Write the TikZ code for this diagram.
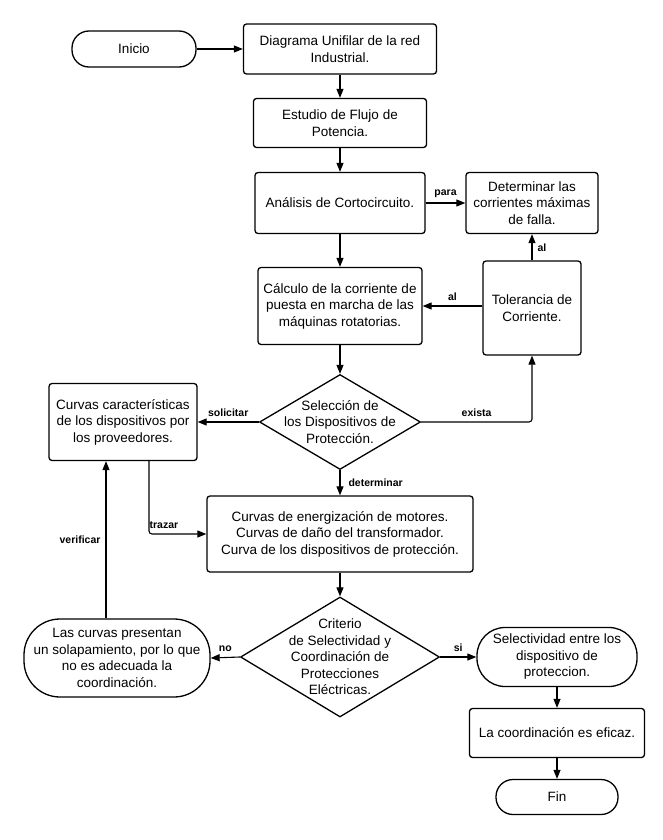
\documentclass[tikz,border=0pt]{standalone}
\usepackage{fontspec}
\setmainfont{Liberation Sans}
\usetikzlibrary{arrows.meta,shapes.geometric}
\begin{document}
\begin{tikzpicture}[x=1pt,y=-1pt,
  txt/.style={font=\fontsize{13.5}{16.5}\selectfont, align=center},
  box/.style={txt, draw, line width=1.3pt, rounded corners=3pt, inner sep=0pt},
  term/.style={box, rounded corners=17pt},
  dia/.style={draw, shape=diamond, line width=1.3pt, inner sep=0pt},
  lbl/.style={font=\bfseries\fontsize{10.5}{12}\selectfont, inner sep=1pt},
  arr/.style={draw, line width=1.1pt, -{Triangle[length=9pt,width=7pt]}}
]
\useasboundingbox (0,0) rectangle (662,840);
\fill[white] (0,0) rectangle (662,840);

\node[term, minimum width=124pt, minimum height=36pt] (inicio) at (134,49) {Inicio};
\node[box, minimum width=193pt, minimum height=50pt] (diag) at (340,49) {Diagrama Unifilar de la red\\Industrial.};
\node[box, minimum width=173pt, minimum height=49pt] (estudio) at (340,123) {Estudio de Flujo de\\Potencia.};
\node[box, minimum width=170pt, minimum height=61pt] (analisis) at (340,203) {Análisis de Cortocircuito.};
\node[box, minimum width=132pt, minimum height=61pt] (determ) at (532,203) {Determinar las\\corrientes máximas\\de falla.};
\node[box, minimum width=164pt, minimum height=77pt] (calculo) at (340,306) {Cálculo de la corriente de\\puesta en marcha de las\\máquinas rotatorias.};
\node[box, minimum width=98pt, minimum height=94pt] (toler) at (532,308) {Tolerancia de\\Corriente.};
\node[dia, minimum width=161pt, minimum height=95pt,
  label={[txt]center:{Selección de\\los Dispositivos de\\Protección.}}] (sel) at (340,422) {};
\node[box, minimum width=148pt, minimum height=77pt] (curcar) at (123,422) {Curvas características\\de los dispositivos por\\los proveedores.};
\node[box, minimum width=266pt, minimum height=76pt] (curen) at (340,534) {Curvas de energización de motores.\\Curvas de daño del transformador.\\Curva de los dispositivos de protección.};
\node[dia, minimum width=199pt, minimum height=120pt,
  label={[txt]center:{Criterio\\de Selectividad y\\Coordinación de\\Protecciones\\Eléctricas.}}] (crit) at (340,657) {};
\node[box, rounded corners=36pt, minimum width=186pt, minimum height=78pt] (lascur) at (117,658) {Las curvas presentan\\un solapamiento, por lo que\\no es adecuada la\\coordinación.};
\node[box, rounded corners=28pt, minimum width=160pt, minimum height=59pt] (selec) at (557,657) {Selectividad entre los\\dispositivo de\\proteccion.};
\node[box, minimum width=175pt, minimum height=49pt] (coord) at (557,733) {La coordinación es eficaz.};
\node[term, minimum width=122pt, minimum height=35pt] (fin) at (557,797) {Fin};

\draw[arr] (inicio.east) -- (diag.west);
\draw[arr] (diag.south) -- (estudio.north);
\draw[arr] (estudio.south) -- (analisis.north);
\draw[arr] (analisis.east) -- node[lbl, above=4pt] {para} (determ.west);
\draw[arr] (analisis.south) -- (calculo.north);
\draw[arr] (toler.west |- calculo.east) -- node[lbl, above=4pt] {al} (calculo.east);
\draw[arr] (toler.north) -- node[lbl, right=4pt] {al} (determ.south);
\draw[arr] (calculo.south) -- (sel.north);
\draw[arr] (sel.west) -- node[lbl, above=4pt] {solicitar} (curcar.east);
\draw[arr, rounded corners=3pt] (sel.east) -| node[lbl, pos=0.25, above=4pt] {exista} (toler.south);
\draw[arr] (sel.south) -- node[lbl, right=7pt] {determinar} (curen.north);
\draw[arr, rounded corners=3pt] ([xshift=26pt]curcar.south) |- node[lbl, pos=0.63, above=4pt] {trazar} (curen.west);
\draw[arr] ([xshift=-11pt]lascur.north) -- node[lbl, left=4pt] {verificar} ([xshift=-17pt]curcar.south);
\draw[arr] (curen.south) -- (crit.north);
\draw[arr] (crit.west) -- node[lbl, above=4pt] {no} (lascur.east);
\draw[arr] (crit.east) -- node[lbl, above=4pt] {si} (selec.west);
\draw[arr] (selec.south) -- (coord.north);
\draw[arr] (coord.south) -- (fin.north);
\end{tikzpicture}
\end{document}
